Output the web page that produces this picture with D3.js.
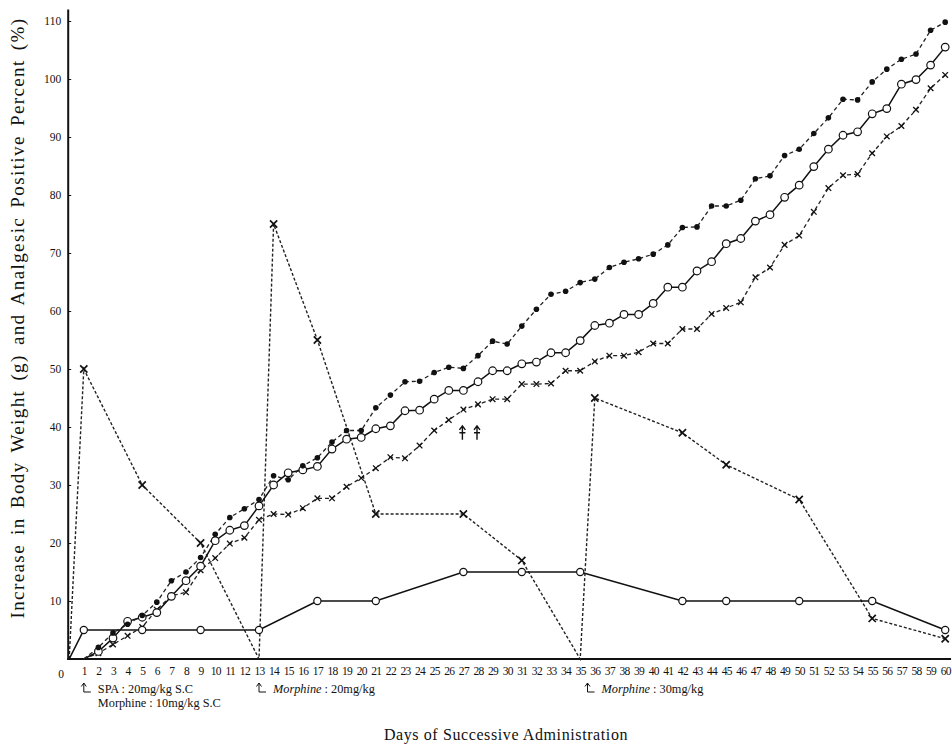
<!DOCTYPE html>
<html><head><meta charset="utf-8">
<script src="https://cdn.jsdelivr.net/npm/d3@7/dist/d3.min.js"></script>
<style>body{margin:0;background:#fff}svg{display:block}text{font-family:"Liberation Serif","DejaVu Serif",serif;fill:#111}</style>
</head><body><svg id="c" width="952" height="749"></svg>
<script>
// ---- data ----
const days = d3.range(1, 61);
const dotSeries = [0,2,4.5,6,7.5,9.8,13.5,15,17.5,21.5,24.4,25.9,27.5,31.6,30.9,33.3,34.7,37.4,39.4,39.4,43.3,45.5,47.8,47.9,49.4,50.3,50.1,52.3,54.8,54.3,57.4,60.3,62.9,63.4,64.9,65.5,67.5,68.4,69.0,69.8,71.4,74.4,74.5,78.1,78.1,79.1,82.8,83.3,86.8,87.9,90.6,93.3,96.5,96.4,99.5,101.7,103.4,104.3,108.4,109.8];
const openSeries = [0,1.3,3.6,6.5,7.2,8.0,10.8,13.5,16.0,20.4,22.2,23.0,26.4,30.0,32.1,32.6,33.2,36.2,37.9,38.2,39.7,40.2,42.8,42.9,44.8,46.3,46.3,47.8,49.7,49.7,50.9,51.2,52.8,52.8,54.9,57.5,57.9,59.4,59.4,61.3,64.1,64.1,66.9,68.5,71.6,72.5,75.5,76.6,79.6,81.7,84.9,87.9,90.3,90.9,94.0,94.9,99.1,99.9,102.4,105.5];
const crossSeries = [0,1,2.5,4,5.5,8.5,10.9,11.5,15.3,17.4,19.9,20.9,24.0,25.0,24.9,26.0,27.7,27.7,29.7,31.2,32.9,34.8,34.6,36.8,39.4,41.2,43.0,43.9,44.8,44.8,47.4,47.4,47.5,49.7,49.7,51.3,52.3,52.3,52.9,54.4,54.4,56.9,56.9,59.5,60.5,61.5,65.8,67.5,71.4,73.0,77.1,81.2,83.4,83.6,87.2,90.1,91.9,94.7,98.4,100.7];
const analgesicDays = [0,1,5,9,13,14,17,21,27,31,35,36,42,45,50,55,60];
const analgesicVals = [0,50,30,20,0,75,55,25,25,17,0,45,39,33.5,27.5,7,3.5];
const circleDays = [0,1,5,9,13,17,21,27,31,35,42,45,50,55,60];
const circleVals = [0,5,5,5,5,10,10,15,15,15,10,10,10,10,5];
const yTicks = [10,20,30,40,50,60,70,80,90,100,110];
const xTickLabels = days.map(String);
const yTitle = "Increase in Body Weight (g) and Analgesic Positive Percent (%)";
const xTitle = "Days of Successive Administration";
const notes = [
  {day:1, lines:[["SPA : 20mg/kg  S.C", false]], extra:"Morphine : 10mg/kg  S.C"},
  {day:13, lines:[["Morphine", true],[" : 20mg/kg", false]]},
  {day:35.5, lines:[["Morphine", true],[" : 30mg/kg", false]]}
];
const markDays = [27, 28];
const markValue = 39;

// ---- chart ----
const svg = d3.select("#c");
const x = d3.scaleLinear().domain([0,60]).range([69.2, 945.2]);
const y = d3.scaleLinear().domain([0,110]).range([659, 21]);

// axes
const yAxis = d3.axisLeft(y).tickValues(yTicks).tickSize(3).tickPadding(4).tickFormat(d3.format("d"));
const gy = svg.append("g").attr("transform", `translate(${x(0)-1},0)`).call(yAxis);
gy.select(".domain").attr("stroke","#111").attr("stroke-width",2).attr("d", `M0,${y(0)+1}V${y(112)}`);
gy.selectAll(".tick line").attr("stroke","#111").attr("x2",3);
gy.selectAll(".tick text").attr("font-size",11.5).attr("fill","#111").style("font-family","Liberation Serif");

const xAxis = d3.axisBottom(x).tickValues(days).tickSize(0).tickPadding(8).tickFormat((d,i)=>xTickLabels[i]);
const gx = svg.append("g").attr("transform", `translate(0,${y(0)})`).call(xAxis);
gx.select(".domain").attr("stroke","#111").attr("stroke-width",2).attr("d", `M${x(0)-2},0H${x(60.4)}`);
gx.selectAll(".tick text").attr("font-size",11.5).attr("fill","#111").attr("letter-spacing",-0.7).style("font-family","Liberation Serif");
svg.append("text").attr("x", x(0)-8).attr("y", y(0)+19).attr("font-size",11.5).attr("text-anchor","middle").text("0");

// lines
const line = (xs, ys) => d3.line().x((d,i)=>x(xs[i])).y((d,i)=>y(ys[i]))(ys);
const plot = svg.append("g");

plot.append("path").attr("d", line(analgesicDays, analgesicVals)).attr("fill","none").attr("stroke","#222").attr("stroke-width",1.4).attr("stroke-dasharray","3,2");
plot.append("path").attr("d", line(circleDays, circleVals)).attr("fill","none").attr("stroke","#111").attr("stroke-width",1.6);
plot.append("path").attr("d", line(days, crossSeries)).attr("fill","none").attr("stroke","#222").attr("stroke-width",1.3).attr("stroke-dasharray","4,3");
plot.append("path").attr("d", line(days, openSeries)).attr("fill","none").attr("stroke","#111").attr("stroke-width",1.5);
plot.append("path").attr("d", line(days, dotSeries)).attr("fill","none").attr("stroke","#222").attr("stroke-width",1.3).attr("stroke-dasharray","4,3");

// markers
function crosses(xs, ys, s, w){
  plot.append("g").selectAll("path").data(ys.map((v,i)=>[xs[i],v]).filter(d=>d[1]>0))
    .join("path").attr("d", d=>{const cx=x(d[0]), cy=y(d[1]);return `M${cx-s},${cy-s}L${cx+s},${cy+s}M${cx+s},${cy-s}L${cx-s},${cy+s}`;})
    .attr("stroke","#111").attr("stroke-width",w).attr("fill","none");
}
crosses(analgesicDays, analgesicVals, 3.6, 1.7);
crosses(days, crossSeries, 2.8, 1.3);
plot.append("g").selectAll("circle").data(circleVals.map((v,i)=>[circleDays[i],v]).filter(d=>d[0]>0))
  .join("circle").attr("cx",d=>x(d[0])).attr("cy",d=>y(d[1])).attr("r",3.6).attr("fill","#fff").attr("stroke","#111").attr("stroke-width",1.2);
plot.append("g").selectAll("circle").data(openSeries.map((v,i)=>[days[i],v]).filter(d=>d[1]>0))
  .join("circle").attr("cx",d=>x(d[0])).attr("cy",d=>y(d[1])).attr("r",3.8).attr("fill","#fff").attr("stroke","#111").attr("stroke-width",1.2);
plot.append("g").selectAll("circle").data(dotSeries.map((v,i)=>[days[i],v]).filter(d=>d[1]>0))
  .join("circle").attr("cx",d=>x(d[0])).attr("cy",d=>y(d[1])).attr("r",2.8).attr("fill","#111");

// small arrow marks
markDays.forEach(d=>{
  const cx=x(d)-1, cy=y(markValue);
  svg.append("path").attr("d",`M${cx},${cy-7}V${cy+7}M${cx-3},${cy-3}L${cx},${cy-7}L${cx+3},${cy-3}M${cx-3},${cy}H${cx+3}`).attr("stroke","#111").attr("stroke-width",1.4).attr("fill","none");
});

// annotations below axis
notes.forEach(n=>{
  const ax = x(n.day), ay = y(0)+33;
  svg.append("path").attr("d",`M${ax},${ay-9}V${ay}H${ax+7}M${ax-2.5},${ay-5.5}L${ax},${ay-9}L${ax+2.5},${ay-5.5}`).attr("stroke","#111").attr("stroke-width",1).attr("fill","none");
  const t = svg.append("text").attr("x", ax+14).attr("y", ay+1).attr("font-size",12.3);
  n.lines.forEach(([s,it])=>t.append("tspan").attr("font-style", it?"italic":"normal").text(s));
  if(n.extra) svg.append("text").attr("x", ax+14).attr("y", ay+15).attr("font-size",12.3).text(n.extra);
});

// titles
svg.append("text").attr("x", 506).attr("y", 740).attr("text-anchor","middle").attr("font-size",16).attr("letter-spacing",0.6).text(xTitle);
svg.append("text").attr("transform","translate(24,318) rotate(-90)").attr("text-anchor","middle").attr("font-size",19).attr("letter-spacing",1.4).attr("word-spacing",3).text(yTitle);
</script></body></html>
